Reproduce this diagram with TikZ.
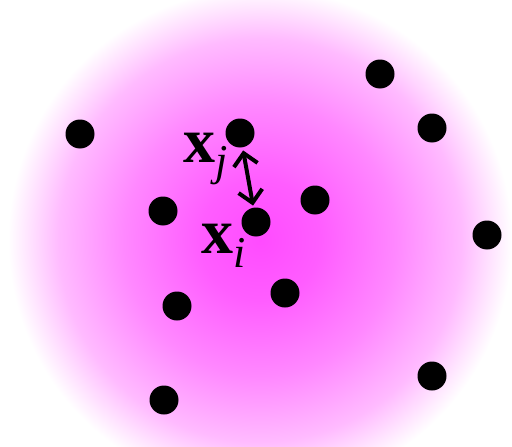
\documentclass[tikz,border=0pt]{standalone}
\usepackage{fontspec}
\setmainfont{Liberation Serif}
\usetikzlibrary{arrows.meta}

\definecolor{glowc}{RGB}{255,75,255}
\pgfdeclareradialshading{glow}{\pgfpointorigin}{color(0bp)=(glowc); color(6bp)=(glowc!90!white);
  color(13.5bp)=(glowc!66!white); color(20bp)=(glowc!38!white); color(23bp)=(glowc!15!white);
  color(25bp)=(white); color(50bp)=(white)}

\begin{document}
\begin{tikzpicture}[
  x=1pt, y=-1pt,
  dot/.style={circle, fill=black, inner sep=0pt, minimum size=29pt},
  lbl/.style={anchor=base west, inner sep=0pt, font=\fontsize{64}{64}\selectfont\bfseries},
  pair/.style={{Straight Barb[length=12pt,width=24pt]}-{Straight Barb[length=12pt,width=24pt]},
               line width=4pt, shorten <=3pt, shorten >=2pt}
]
\useasboundingbox (0,0) rectangle (512,447);
% magenta glow behind the points
\shade[shading=glow] (260,240) circle[radius=252];
% sample points
\node[dot] (p1)  at (380,74)  {};
\node[dot] (p2)  at (80,134)  {};
\node[dot] (xj)  at (240,133) {};
\node[dot] (p4)  at (432,128) {};
\node[dot] (p5)  at (163,211) {};
\node[dot] (p6)  at (315,200) {};
\node[dot] (xi)  at (256,222) {};
\node[dot] (p8)  at (487,235) {};
\node[dot] (p9)  at (177,306) {};
\node[dot] (p10) at (285,293) {};
\node[dot] (p11) at (432,376) {};
\node[dot] (p12) at (164,400) {};
% labels of the two marked points
\node[lbl] (lj) at (183,162) {x\raisebox{-13pt}{\fontsize{44}{44}\selectfont\mdseries\itshape j}};
\node[lbl] (li) at (201,253) {x\raisebox{-14pt}{\fontsize{44}{44}\selectfont\mdseries\itshape i}};
\draw[pair] (xj) -- (xi);
\end{tikzpicture}
\end{document}
